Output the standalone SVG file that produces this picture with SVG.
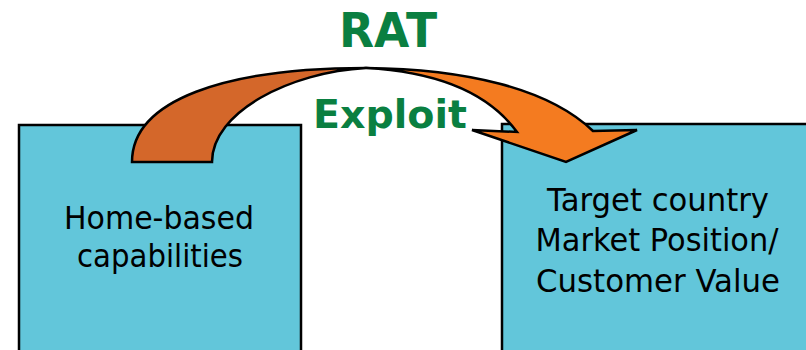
<svg xmlns="http://www.w3.org/2000/svg" width="806" height="350" viewBox="0 0 806 350">
<style>
.box{fill:#62C6DA;stroke:#000;stroke-width:2.5}
.lbl{font-family:"DejaVu Sans",Verdana,sans-serif;font-size:32px;fill:#000;text-anchor:middle}
.green{font-family:"DejaVu Sans",Verdana,sans-serif;font-weight:bold;fill:#0A7F41}
.arr{stroke:#000;stroke-width:2.5;stroke-linejoin:miter}
</style>
<rect width="806" height="350" fill="#fff"/>
<g id="home">
<rect class="box" x="19" y="125" width="282" height="240"/>
<text class="lbl" x="159" y="229" textLength="190" lengthAdjust="spacingAndGlyphs">Home-based</text>
<text class="lbl" x="160" y="267" textLength="166" lengthAdjust="spacingAndGlyphs">capabilities</text>
</g>
<g id="target">
<rect class="box" x="502" y="124" width="320" height="240"/>
<text class="lbl" x="658" y="211" textLength="222" lengthAdjust="spacingAndGlyphs">Target country</text>
<text class="lbl" x="657" y="251" textLength="243" lengthAdjust="spacingAndGlyphs">Market Position/</text>
<text class="lbl" x="658" y="292" textLength="244" lengthAdjust="spacingAndGlyphs">Customer Value</text>
</g>
<g id="connectors">
<path class="arr" fill="#D4672A" d="M132,162 C132,100 225,68 366,68 C290,72 212,112 212,162 Z"/>
<path class="arr" fill="#F47B20" d="M366,68 C465,69 548,88 593,131 L637,130 L566,162 L472,130 L517,132 C490,95 440,72 366,68 Z"/>
</g>
<g id="labels">
<text class="green" x="388" y="47" font-size="48" text-anchor="middle" textLength="98" lengthAdjust="spacingAndGlyphs">RAT</text>
<text class="green" x="313" y="128" font-size="39" textLength="154" lengthAdjust="spacingAndGlyphs">Exploit</text>
</g>
</svg>
